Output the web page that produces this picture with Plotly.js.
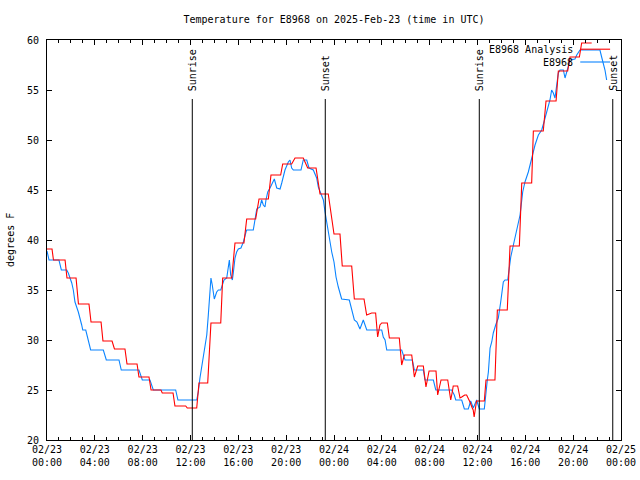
<!DOCTYPE html>
<html>
<head>
<meta charset="utf-8">
<script src="https://cdn.plot.ly/plotly-3.0.1.min.js"></script>
<style>html,body{margin:0;padding:0;background:#fff;}#chart{width:640px;height:480px;}</style>
</head>
<body>
<div id="chart"></div>
<script>
// Hours after 2025-02-23 00:00 UTC
const redHours = [0.00,0.42,0.54,1.51,1.67,2.43,2.63,3.51,3.68,4.52,4.68,5.44,5.64,6.52,6.69,7.53,7.69,8.53,8.70,9.53,9.64,10.54,10.70,11.60,11.73,12.52,12.71,13.44,13.71,14.53,14.69,15.45,15.72,16.47,16.70,17.45,17.73,18.51,18.73,19.54,19.71,20.46,20.74,21.43,21.80,22.50,22.83,23.52,24.00,24.50,24.69,25.48,25.70,26.51,26.73,27.15,27.48,27.65,27.84,27.99,28.46,28.63,29.46,29.66,29.88,30.50,30.72,31.00,31.47,31.69,31.95,32.53,32.67,32.78,32.95,33.51,33.76,33.89,33.97,34.34,34.54,34.68,34.93,35.09,35.23,35.37,35.56,35.64,35.72,35.84,35.92,36.57,36.71,37.46,37.66,38.49,38.72,39.50,39.70,40.53,40.67,41.50,41.73,42.57,42.76,43.54,43.74,44.52,44.71,45.55];
const redTemps = [39.1,39.1,38.0,38.0,36.2,36.2,33.6,33.6,31.8,31.8,29.9,29.9,29.1,29.1,27.6,27.6,26.3,26.3,25.0,25.0,24.7,24.7,23.4,23.4,23.2,23.2,25.7,25.7,31.7,31.7,36.2,36.2,39.7,39.7,42.1,42.1,44.1,44.1,46.5,46.5,47.6,47.6,48.2,48.2,47.2,47.2,44.6,44.6,40.6,40.6,37.4,37.4,34.1,34.1,32.5,32.7,32.7,30.3,31.5,31.7,31.7,30.2,30.2,27.5,28.5,28.5,26.3,27.4,27.4,25.3,26.9,26.9,24.5,25.0,26.0,26.0,24.0,24.8,25.4,25.4,24.2,24.3,24.5,24.5,24.2,23.8,23.2,23.0,22.3,23.2,23.9,23.9,26.0,26.0,33.0,33.0,39.4,39.4,45.7,45.7,50.9,50.9,53.9,53.9,56.9,56.9,58.3,58.3,59.7,59.7];

const blueHours = [0.00,0.17,1.00,1.20,1.65,1.78,2.07,2.20,2.34,2.62,2.90,2.99,3.24,3.37,3.65,4.71,4.96,6.02,6.21,7.69,7.97,8.61,8.89,10.76,10.95,12.52,12.65,12.79,13.07,13.36,13.49,13.63,13.71,13.82,13.99,14.19,14.33,14.53,14.66,14.80,15.03,15.16,15.25,15.36,15.50,15.58,15.72,15.86,16.00,16.22,16.42,16.64,16.70,17.25,17.39,17.54,17.81,17.95,18.09,18.23,18.31,18.46,18.65,18.84,19.01,19.21,19.49,19.63,19.90,20.18,20.32,20.46,20.60,21.24,21.43,21.72,21.91,22.27,22.55,22.69,22.97,23.11,23.25,23.52,23.67,23.81,24.00,24.17,24.36,24.64,25.28,25.48,25.70,25.92,26.17,26.45,26.74,27.99,28.12,28.27,28.41,29.66,29.94,30.55,30.72,31.47,31.61,32.31,32.51,33.84,34.06,34.18,34.68,34.90,35.23,35.43,35.65,35.93,36.15,36.57,36.63,36.71,36.82,36.91,37.05,37.19,37.32,37.52,37.74,37.94,38.16,38.30,38.53,38.66,38.78,39.00,39.28,39.56,39.78,39.97,40.25,40.53,40.81,41.09,41.37,41.56,41.79,42.06,42.20,42.34,42.48,42.62,42.76,42.90,43.18,43.32,43.46,43.74,44.15,44.30,44.57,46.24,46.38,46.66,46.80];
const blueTemps = [38.9,38.0,38.0,37.0,37.0,36.7,35.7,35.0,33.8,32.8,31.5,31.0,31.0,30.3,29.0,29.0,28.0,28.0,27.0,27.0,26.0,26.0,25.0,25.0,24.0,24.0,24.8,26.2,28.2,30.5,32.5,34.8,36.2,35.5,34.1,34.8,35.0,35.0,35.5,36.0,36.2,37.5,38.0,36.5,36.0,36.7,38.2,38.8,39.1,39.2,39.8,40.8,41.0,41.0,42.2,43.1,43.3,44.0,43.5,43.3,44.0,44.8,45.2,45.6,46.1,45.2,45.1,45.7,47.0,47.8,48.0,47.2,47.0,47.0,48.0,48.0,47.2,47.0,46.2,45.3,44.5,44.0,42.8,40.7,39.5,38.8,37.8,36.3,35.3,34.1,34.0,33.0,32.0,31.8,31.1,32.0,31.0,31.0,30.3,30.0,29.0,29.0,28.0,28.0,27.0,27.0,26.0,26.0,25.0,25.0,24.5,24.0,24.0,23.1,23.1,23.9,23.2,24.0,23.1,23.1,24.0,24.8,26.0,26.8,29.2,29.8,30.7,31.5,32.2,33.8,35.8,36.0,36.0,37.2,38.3,39.5,41.0,42.5,44.8,45.8,46.8,48.2,49.5,50.5,51.0,51.8,52.8,54.0,55.0,54.7,54.2,55.5,56.7,57.0,57.0,56.2,56.8,58.0,58.1,58.5,59.0,59.0,58.3,57.0,56.0];

const sunHours = [12.15, 23.27, 36.15, 47.31];
const sunLabels = ['Sunrise', 'Sunset', 'Sunrise', 'Sunset'];

const seriesNames = ['E8968 Analysis', 'E8968'];
const seriesColors = ['#ff0000', '#0a84ff'];

const yTickVals = [20,25,30,35,40,45,50,55,60];

const BASE = Date.UTC(2025, 1, 23, 0, 0, 0);
function toDate(h) {
  const d = new Date(BASE + Math.round(h * 3600000));
  return d.toISOString().slice(0, 19).replace('T', ' ');
}

const FONT = 'DejaVu Sans Mono, Liberation Mono, monospace';

const traces = [
  {
    x: blueHours.map(toDate), y: blueTemps, type: 'scatter', mode: 'lines',
    name: seriesNames[1], line: {color: seriesColors[1], width: 1.1}, hoverinfo: 'skip'
  },
  {
    x: redHours.map(toDate), y: redTemps, type: 'scatter', mode: 'lines',
    name: seriesNames[0], line: {color: seriesColors[0], width: 1.1}, hoverinfo: 'skip'
  }
];

const shapes = sunHours.map(h => ({
  type: 'line', xref: 'x', yref: 'y',
  x0: toDate(h), x1: toDate(h), y0: 20, y1: 54.1,
  line: {color: '#000', width: 1}
}));

const annotations = sunHours.map((h, i) => ({
  x: toDate(h), y: 54.7, xref: 'x', yref: 'y',
  text: sunLabels[i], showarrow: false, textangle: -90,
  xanchor: 'center', yanchor: 'bottom',
  font: {family: FONT, size: 10, color: '#000'}
}));

// legend (text right-aligned, sample line on the right, gnuplot style)
const legY = [0.977, 0.945];
seriesNames.forEach((n, i) => {
  annotations.push({
    x: 0.919, y: legY[i], xref: 'paper', yref: 'paper',
    text: n, showarrow: false, xanchor: 'right', yanchor: 'middle',
    font: {family: FONT, size: 10, color: '#000'}
  });
  shapes.push({
    type: 'line', xref: 'paper', yref: 'paper',
    x0: 0.929, x1: 0.981, y0: legY[i], y1: legY[i],
    line: {color: seriesColors[i], width: 1.1}
  });
});

annotations.push({
  x: -0.0645, y: 0.5, xref: 'paper', yref: 'paper',
  text: 'degrees F', showarrow: false, textangle: -90,
  xanchor: 'center', yanchor: 'middle',
  font: {family: FONT, size: 10, color: '#000'}
});

const layout = {
  width: 640, height: 480,
  margin: {l: 47, r: 19, t: 40, b: 40, pad: 0},
  paper_bgcolor: '#fff', plot_bgcolor: '#fff',
  showlegend: false,
  title: {
    text: 'Temperature for E8968 on 2025-Feb-23 (time in UTC)',
    font: {family: FONT, size: 10, color: '#000'},
    x: 0.5, xref: 'paper', xanchor: 'center',
    y: 1 - 19 / 480, yref: 'container', yanchor: 'middle'
  },
  xaxis: {
    type: 'date',
    range: [toDate(0), toDate(48)],
    tick0: toDate(0), dtick: 4 * 3600000,
    tickformat: '%m/%d<br>%H:%M',
    ticks: 'inside', ticklen: 5, tickwidth: 1, tickcolor: '#000',
    minor: {ticks: 'inside', dtick: 3600000, ticklen: 3, tickwidth: 1, tickcolor: '#000', showgrid: false},
    showline: true, linecolor: '#000', linewidth: 1, mirror: 'ticks',
    showgrid: false, zeroline: false,
    tickfont: {family: FONT, size: 10, color: '#000'},
    fixedrange: true
  },
  yaxis: {
    range: [20, 60],
    tickvals: yTickVals,
    ticks: 'inside', ticklen: 5, tickwidth: 1, tickcolor: '#000',
    showline: true, linecolor: '#000', linewidth: 1, mirror: 'ticks',
    showgrid: false, zeroline: false,
    ticklabelstandoff: 5,
    tickfont: {family: FONT, size: 10, color: '#000'},
    fixedrange: true
  },
  shapes: shapes,
  annotations: annotations
};

Plotly.newPlot('chart', traces, layout, {staticPlot: true, displayModeBar: false});
</script>
</body>
</html>
